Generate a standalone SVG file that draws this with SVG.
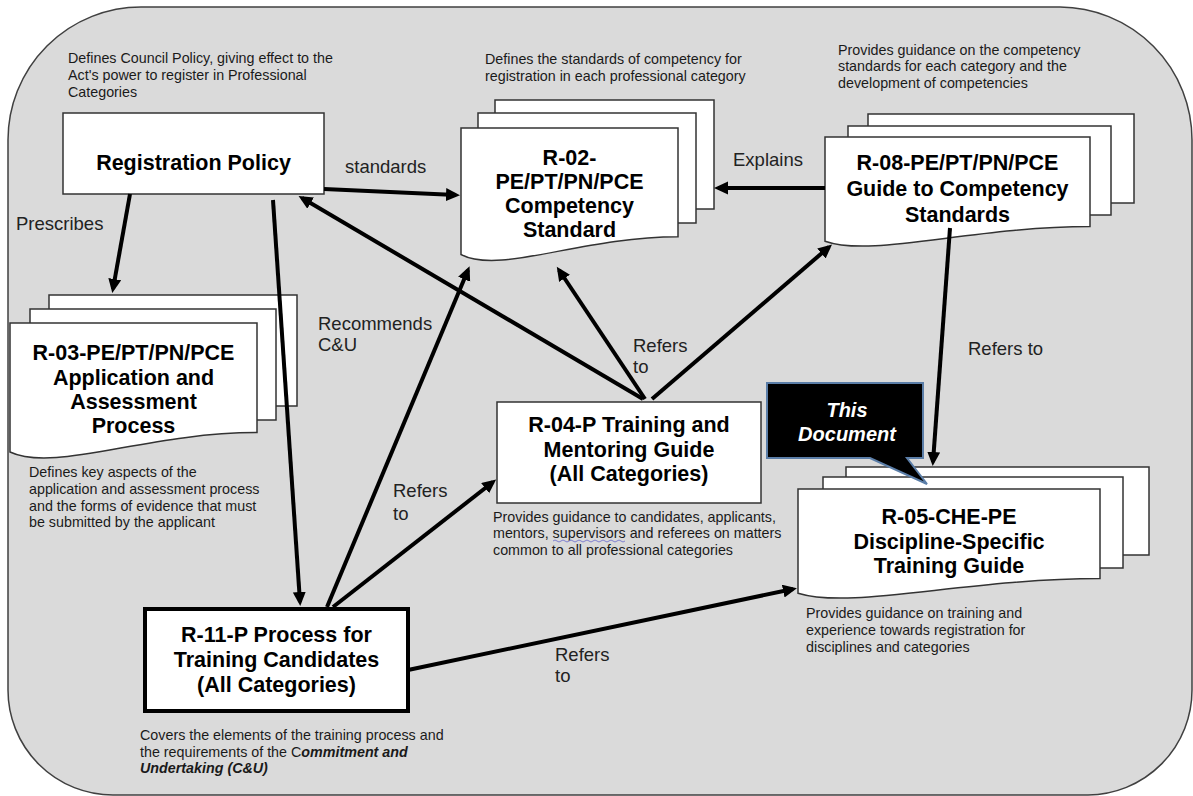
<svg xmlns="http://www.w3.org/2000/svg" width="1193" height="796" viewBox="0 0 1193 796">
  <defs>
    <marker id="ah" markerUnits="userSpaceOnUse" markerWidth="16" markerHeight="14" refX="10" refY="6.5" orient="auto">
      <path d="M0,0 L14,6.5 L0,13 Z" fill="#000"/>
    </marker>
    <style>
      .desc { font-family: "Liberation Sans", Arial, sans-serif; font-size: 14.3px; fill: #1a1a1a; }
      .lbl { font-family: "Liberation Sans", Arial, sans-serif; font-size: 18.5px; fill: #222; }
      .nt { font-family: "Liberation Sans", Arial, sans-serif; font-size: 21.5px; font-weight: bold; fill: #000; text-anchor: middle; }
      .sheet { fill: #fff; stroke: #333; stroke-width: 1.5; }
      .conn { stroke: #000; stroke-width: 4; fill: none; marker-end: url(#ah); }
      .bi { font-weight: bold; font-style: italic; }
    </style>
  </defs>

  <rect width="1193" height="796" fill="#fff"/>
  <path id="background" d="M141,7 L1060,7 A133,133 0 0 1 1192,140 L1192,690 A105,105 0 0 1 1088,795 L113,795 A105,105 0 0 1 8,690 L8,140 A133,133 0 0 1 141,7 Z" fill="#dadada" stroke="#404040" stroke-width="1.5"/>

  <g id="registration-policy">
    <text class="desc" x="68" y="63">Defines Council Policy, giving effect to the</text>
    <text class="desc" x="68" y="80">Act's power to register in Professional</text>
    <text class="desc" x="68" y="97">Categories</text>
    <rect class="sheet" x="63" y="113" width="261" height="81"/>
    <text class="nt" x="193.5" y="170">Registration Policy</text>
  </g>

  <g id="r02">
    <text class="desc" x="485" y="64">Defines the standards of competency for</text>
    <text class="desc" x="485" y="81">registration in each professional category</text>
    <rect class="sheet" x="495" y="100" width="219" height="109"/>
    <rect class="sheet" x="478" y="113" width="218" height="110"/>
    <path class="sheet" d="M461,128 H678 V236.8 C580.4,236.8 500.1,274.9 461,254.5 Z"/>
    <text class="nt" x="569.5" y="165">R-02-</text>
    <text class="nt" x="569.5" y="189">PE/PT/PN/PCE</text>
    <text class="nt" x="569.5" y="213">Competency</text>
    <text class="nt" x="569.5" y="237">Standard</text>
  </g>

  <g id="r08">
    <text class="desc" x="838" y="55">Provides guidance on the competency</text>
    <text class="desc" x="838" y="71">standards for each category and the</text>
    <text class="desc" x="838" y="88">development of competencies</text>
    <rect class="sheet" x="868" y="114" width="266" height="89"/>
    <rect class="sheet" x="848" y="126" width="263" height="89"/>
    <path class="sheet" d="M825,137 H1090 V226.6 C970.8,226.6 872.7,258 825,241.2 Z"/>
    <text class="nt" x="957.5" y="170">R-08-PE/PT/PN/PCE</text>
    <text class="nt" x="957.5" y="196">Guide to Competency</text>
    <text class="nt" x="957.5" y="222">Standards</text>
  </g>

  <g id="r03">
    <rect class="sheet" x="49" y="295" width="248" height="111"/>
    <rect class="sheet" x="30" y="309" width="246" height="111"/>
    <path class="sheet" d="M10,323 H257 V432.6 C145.9,432.6 54.5,473 10,452 Z"/>
    <text class="nt" x="133.5" y="360">R-03-PE/PT/PN/PCE</text>
    <text class="nt" x="133.5" y="385">Application and</text>
    <text class="nt" x="133.5" y="409">Assessment</text>
    <text class="nt" x="133.5" y="433">Process</text>
    <text class="desc" x="29" y="477">Defines key aspects of the</text>
    <text class="desc" x="29" y="494">application and assessment process</text>
    <text class="desc" x="29" y="511">and the forms of evidence that must</text>
    <text class="desc" x="29" y="527">be submitted by the applicant</text>
  </g>

  <g id="r04">
    <rect class="sheet" x="497" y="402" width="264" height="101"/>
    <text class="nt" x="629" y="432">R-04-P Training and</text>
    <text class="nt" x="629" y="456.5">Mentoring Guide</text>
    <text class="nt" x="629" y="481">(All Categories)</text>
    <text class="desc" x="493" y="522">Provides guidance to candidates, applicants,</text>
    <text class="desc" x="493" y="538">mentors, supervisors and referees on matters</text>
    <text class="desc" x="493" y="555">common to all professional categories</text>
    <path d="M553,541 q2,-2 4,0 t4,0 t4,0 t4,0 t4,0 t4,0 t4,0 t4,0 t4,0 t4,0 t4,0 t4,0 t4,0 t4,0 t4,0 t4,0 t4,0 t4,0" fill="none" stroke="#8080d0" stroke-width="1"/>
  </g>

  <g id="r11">
    <rect x="145" y="609" width="263" height="102" fill="#fff" stroke="#000" stroke-width="4"/>
    <text class="nt" x="276.5" y="642">R-11-P Process for</text>
    <text class="nt" x="276.5" y="667">Training Candidates</text>
    <text class="nt" x="276.5" y="692">(All Categories)</text>
    <text class="desc" x="140" y="740">Covers the elements of the training process and</text>
    <text class="desc" x="140" y="757">the requirements of the C<tspan class="bi">ommitment and</tspan></text>
    <text class="desc bi" x="140" y="773">Undertaking (C&amp;U)</text>
  </g>

  <g id="r05">
    <rect class="sheet" x="846" y="467" width="303" height="88"/>
    <rect class="sheet" x="823" y="477" width="300" height="91"/>
    <path class="sheet" d="M798,489 H1100 V578.6 C964.1,578.6 852.4,610 798,593.2 Z"/>
    <text class="nt" x="949" y="524">R-05-CHE-PE</text>
    <text class="nt" x="949" y="549">Discipline-Specific</text>
    <text class="nt" x="949" y="573">Training Guide</text>
    <text class="desc" x="806" y="618">Provides guidance on training and</text>
    <text class="desc" x="806" y="635">experience towards registration for</text>
    <text class="desc" x="806" y="652">disciplines and categories</text>
  </g>

  <g id="this-document">
    <path d="M767,383 H923 V458 H907 L927,484 L870,458 H767 Z" fill="#000" stroke="#5b7ea8" stroke-width="2"/>
    <text class="nt bi" x="847" y="417" fill="#fff" style="fill:#fff;font-size:20px">This</text>
    <text class="nt bi" x="847" y="441" fill="#fff" style="fill:#fff;font-size:20px">Document</text>
  </g>

  <g id="connectors">
    <line class="conn" x1="130" y1="194" x2="113" y2="289"/>
    <line class="conn" x1="324" y1="189" x2="456" y2="195"/>
    <line class="conn" x1="273" y1="200" x2="300" y2="602"/>
    <line class="conn" x1="643" y1="399" x2="302" y2="198"/>
    <line class="conn" x1="645" y1="399" x2="559" y2="270"/>
    <line class="conn" x1="652" y1="399" x2="829" y2="247"/>
    <line class="conn" x1="825" y1="188" x2="718" y2="188"/>
    <line class="conn" x1="950" y1="228" x2="933" y2="462"/>
    <line class="conn" x1="327" y1="607" x2="468" y2="270"/>
    <line class="conn" x1="333" y1="607" x2="493" y2="482"/>
    <line class="conn" x1="408" y1="670" x2="793" y2="589"/>
  </g>

  <g id="labels">
    <text class="lbl" x="16" y="230">Prescribes</text>
    <text class="lbl" x="345" y="173">standards</text>
    <text class="lbl" x="733" y="166">Explains</text>
    <text class="lbl" x="318" y="330">Recommends</text>
    <text class="lbl" x="318" y="351">C&amp;U</text>
    <text class="lbl" x="393" y="497">Refers</text>
    <text class="lbl" x="393" y="520">to</text>
    <text class="lbl" x="633" y="352">Refers</text>
    <text class="lbl" x="633" y="373">to</text>
    <text class="lbl" x="968" y="355">Refers to</text>
    <text class="lbl" x="555" y="661">Refers</text>
    <text class="lbl" x="555" y="682">to</text>
  </g>
</svg>
